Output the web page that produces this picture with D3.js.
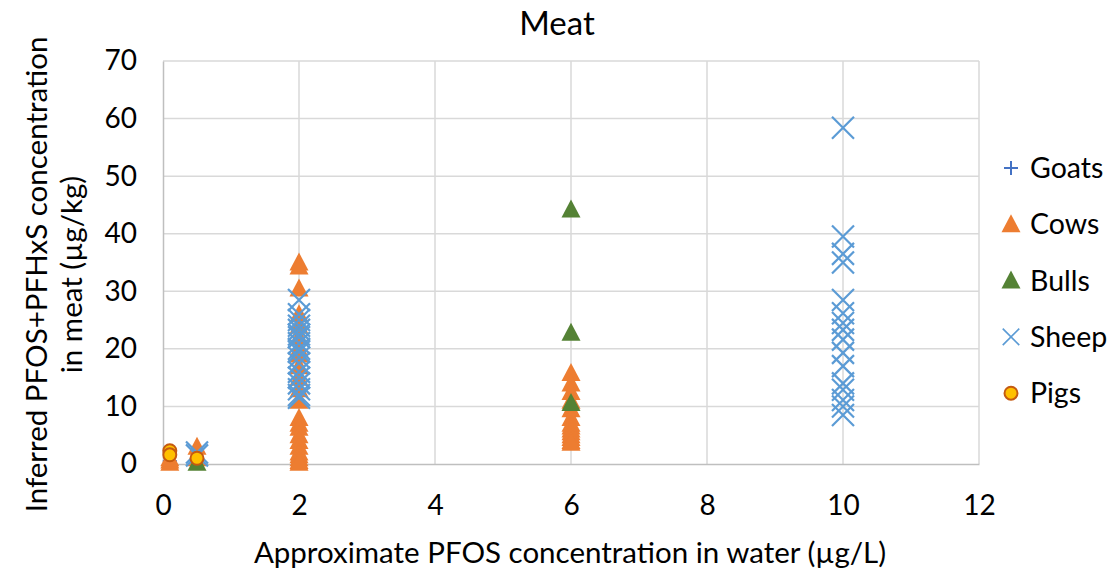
<!DOCTYPE html>
<html>
<head>
<meta charset="utf-8">
<script src="https://cdn.jsdelivr.net/npm/d3@7"></script>
<style>
  html, body { margin: 0; padding: 0; background: #fff; }
  svg text { font-family: Lato, "Open Sans", sans-serif; fill: #000; }
</style>
</head>
<body>
<div id="chart"></div>
<script>
// series data: [water PFOS (µg/L), meat PFOS+PFHxS (µg/kg)]
const goats = [[0.1, 0.5], [0.5, 0.8]];
const cows = [
  [0.1, 0.2], [0.1, 0.6], [0.1, 1.0], [0.5, 3.0], [0.5, 1.0],
  [2, 35], [2, 34.3], [2, 30.5], [2, 26], [2, 24], [2, 22], [2, 20], [2, 19],
  [2, 17], [2, 15], [2, 13], [2, 11], [2, 8], [2, 7], [2, 6.3], [2, 5],
  [2, 4], [2, 3], [2, 2], [2, 1.5], [2, 1], [2, 0.5], [2, 0.2],
  [6, 15.8], [6, 14], [6, 12.5], [6, 11], [6, 9.5], [6, 8], [6, 7], [6, 6.5],
  [6, 6], [6, 5.5], [6, 5], [6, 4.5], [6, 4], [6, 3.7]
];
const bulls = [[0.5, 0.2], [6, 44.2], [6, 22.8], [6, 10.6]];
const sheep = [
  [0.5, 1.5], [0.5, 2.0],
  [2, 28.5], [2, 26], [2, 25], [2, 24], [2, 23.3], [2, 22.5], [2, 22], [2, 21],
  [2, 20], [2, 19.5], [2, 18.5], [2, 17.5], [2, 16], [2, 15], [2, 14], [2, 13],
  [2, 12], [2, 11.5],
  [10, 58.4], [10, 39.5], [10, 36.5], [10, 35], [10, 28.5], [10, 26.2],
  [10, 24.5], [10, 23.3], [10, 21.6], [10, 19.3], [10, 17], [10, 14],
  [10, 12.9], [10, 11.1], [10, 10], [10, 8.5]
];
const pigs = [[0.1, 2.3], [0.1, 1.6], [0.5, 1.0]];

const xTicks = [0, 2, 4, 6, 8, 10, 12];
const yTicks = [0, 10, 20, 30, 40, 50, 60, 70];
const seriesNames = ['Goats', 'Cows', 'Bulls', 'Sheep', 'Pigs'];

const W = 1109, H = 573;
const margin = { top: 61, right: 130, bottom: 109, left: 163 };
const width = W - margin.left - margin.right;
const height = H - margin.top - margin.bottom;

const svg = d3.select('#chart').append('svg')
  .attr('width', W)
  .attr('height', H);

const g = svg.append('g')
  .attr('transform', `translate(${margin.left},${margin.top})`);

const x = d3.scaleLinear().domain([0, 12]).range([0, width]);
const y = d3.scaleLinear().domain([0, 70]).range([height, 0]);

// gridlines
g.append('g').selectAll('line.h')
  .data(yTicks.slice(1))
  .join('line')
  .attr('x1', 0).attr('x2', width)
  .attr('y1', d => y(d)).attr('y2', d => y(d))
  .attr('stroke', '#d9d9d9').attr('stroke-width', 1.5);

g.append('g').selectAll('line.v')
  .data(xTicks.slice(1))
  .join('line')
  .attr('x1', d => x(d)).attr('x2', d => x(d))
  .attr('y1', 0).attr('y2', height)
  .attr('stroke', '#d9d9d9').attr('stroke-width', 1.5);

// axes
const xAxis = g.append('g')
  .attr('transform', `translate(0,${height})`)
  .call(d3.axisBottom(x).tickValues(xTicks).tickSize(0).tickPadding(31));
const yAxis = g.append('g')
  .call(d3.axisLeft(y).tickValues(yTicks).tickSize(0).tickPadding(26));

[xAxis, yAxis].forEach(a => {
  a.select('.domain').attr('stroke', '#bfbfbf').attr('stroke-width', 1.5);
  a.selectAll('text')
    .style('font-family', 'Lato, sans-serif')
    .style('font-size', '28px')
    .attr('fill', '#000');
});

// markers
const symbols = {
  Goats: { draw: (sel) => sel.append('path').attr('d', 'M-7,0H7M0,-7V7')
            .attr('stroke', '#4472c4').attr('stroke-width', 2).attr('fill', 'none') },
  Cows: { draw: (sel) => sel.append('path').attr('d', 'M0,-10L9.5,8L-9.5,8Z')
            .attr('fill', '#ed7d31') },
  Bulls: { draw: (sel) => sel.append('path').attr('d', 'M0,-10L9.5,8L-9.5,8Z')
            .attr('fill', '#548235') },
  Sheep: { draw: (sel) => sel.append('path').attr('d', 'M-11,-11L11,11M11,-11L-11,11')
            .attr('stroke', '#5b9bd5').attr('stroke-width', 2.2).attr('fill', 'none') },
  Pigs: { draw: (sel) => sel.append('circle').attr('r', 6.5)
            .attr('fill', '#ffc000').attr('stroke', '#c55a11').attr('stroke-width', 2) }
};

const dataBySeries = { Goats: goats, Cows: cows, Bulls: bulls, Sheep: sheep, Pigs: pigs };

seriesNames.forEach(name => {
  g.append('g').selectAll('g')
    .data(dataBySeries[name])
    .join('g')
    .attr('transform', d => `translate(${x(d[0])},${y(d[1])})`)
    .each(function() { symbols[name].draw(d3.select(this)); });
});

// title
svg.append('text')
  .attr('x', 557)
  .attr('y', 35)
  .attr('text-anchor', 'middle')
  .style('font-size', '33px')
  .text('Meat');

// x axis label
svg.append('text')
  .attr('x', 570)
  .attr('y', 563)
  .attr('text-anchor', 'middle')
  .style('font-size', '29.5px')
  .text('Approximate PFOS concentration in water (µg/L)');

// y axis label (two lines)
const yl = svg.append('text')
  .attr('transform', `translate(0,${margin.top + height / 2 + 12}) rotate(-90)`)
  .attr('text-anchor', 'middle')
  .style('font-size', '29.5px');
yl.append('tspan').attr('x', 0).attr('y', 47).text('Inferred PFOS+PFHxS concentration');
yl.append('tspan').attr('x', 0).attr('y', 82).text('in meat (µg/kg)');

// legend
const legend = svg.append('g').attr('transform', 'translate(1011,168)');
seriesNames.forEach((name, i) => {
  const row = legend.append('g').attr('transform', `translate(0,${i * 56.3})`);
  const m = row.append('g');
  symbols[name].draw(m);
  if (name === 'Sheep') m.attr('transform', 'scale(0.75)');
  row.append('text')
    .attr('x', 19)
    .attr('y', 10)
    .style('font-size', '28.5px')
    .text(name);
});
</script>
</body>
</html>
